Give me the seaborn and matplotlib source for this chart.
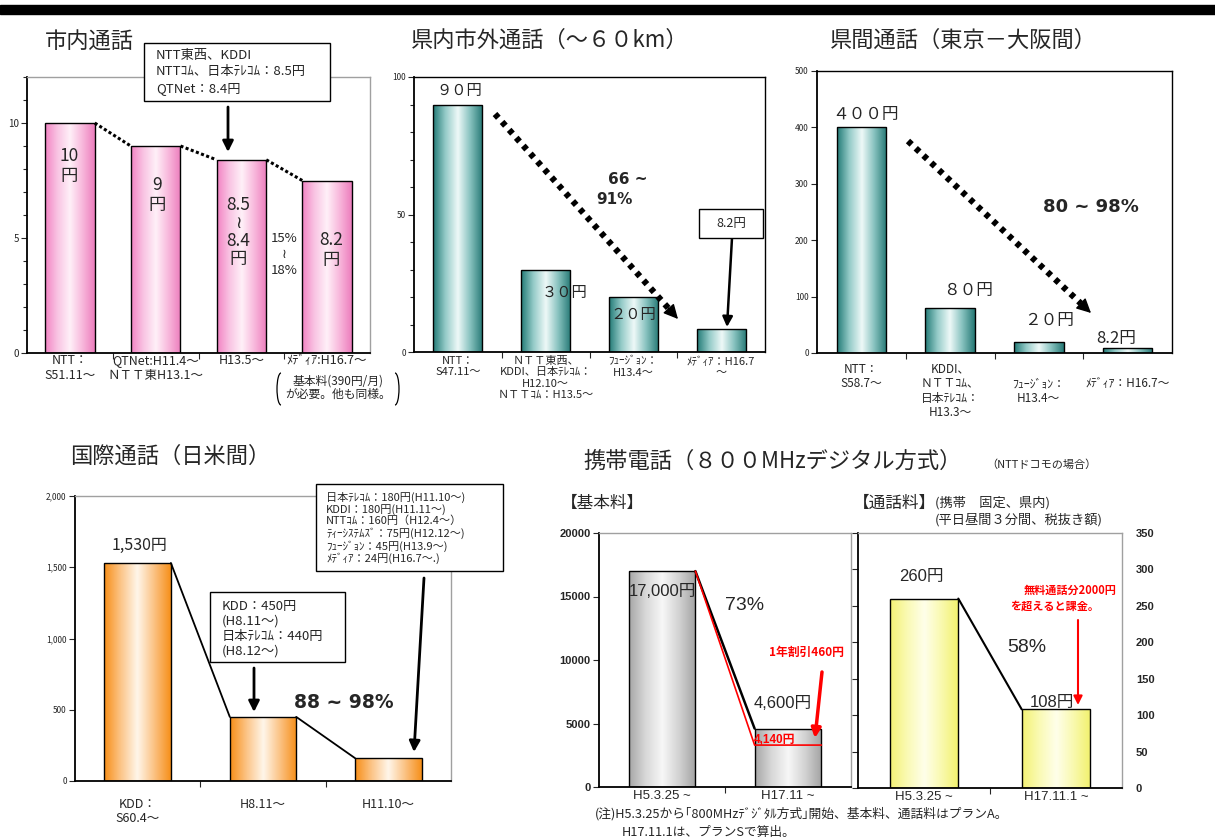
import numpy as np
import matplotlib
matplotlib.use("Agg")
import matplotlib.pyplot as plt
import seaborn as sns
from matplotlib.colors import LinearSegmentedColormap
from matplotlib.patches import Rectangle, Arc
from matplotlib.ticker import MultipleLocator, FuncFormatter

# ---------------- data ----------------
local_cats = ["NTT：\nS51.11～", "QTNet:H11.4～\nＮＴＴ東H13.1～", "H13.5～", "ﾒﾃﾞｨｱ:H16.7～"]
local_vals = [10, 9, 8.4, 7.5]

pref_cats = ["NTT：\nS47.11～", "ＮＴＴ東西、\nKDDI、日本ﾃﾚｺﾑ：\nH12.10～\nＮＴＴｺﾑ：H13.5～",
             "ﾌｭｰｼﾞｮﾝ：\nH13.4～", "ﾒﾃﾞｨｱ：H16.7\n～"]
pref_vals = [90, 30, 20, 8.2]

inter_cats = ["NTT：\nS58.7～", "KDDI、\nＮＴＴｺﾑ、\n日本ﾃﾚｺﾑ：\nH13.3～",
              "\nﾌｭｰｼﾞｮﾝ：\nH13.4～", "\nﾒﾃﾞｨｱ：H16.7～"]
inter_vals = [400, 80, 20, 8.2]

intl_cats = ["KDD：\nS60.4～", "H8.11～", "H11.10～"]
intl_vals = [1530, 450, 160]

basic_cats = ["H5.3.25 ~", "H17.11 ~"]
basic_vals = [17000, 4600]
basic_discount_level = 3300   # level at which the red "4,140円" line is drawn

call_cats = ["H5.3.25 ~", "H17.11.1 ~"]
call_vals = [260, 108]

# ---------------- setup ----------------
sns.set_style("white")
plt.rcParams["font.family"] = ["Noto Sans CJK JP", "DejaVu Sans"]

W, H = 1215, 839
fig = plt.figure(figsize=(W / 100, H / 100), dpi=100)

ARIAL = ["Liberation Sans", "Noto Sans CJK JP"]
DJB = ["DejaVu Sans", "Noto Sans CJK JP"]


def add_ax(x0, y0, x1, y1):
    return fig.add_axes([x0 / W, 1 - y1 / H, (x1 - x0) / W, (y1 - y0) / H])


def gradient(ax, bars, stops):
    cmap = LinearSegmentedColormap.from_list("g", stops)
    grad = np.linspace(0, 1, 256).reshape(1, -1)
    for p in bars:
        x0, w, h = p.get_x(), p.get_width(), p.get_height()
        im = ax.imshow(grad, cmap=cmap, extent=[x0, x0 + w, 0, h], aspect="auto",
                       zorder=1.5, interpolation="bilinear")
        im.set_clip_path(p)
        p.set_facecolor("none")
        p.set_zorder(2)


def panel(box, cats, vals, width, stops, ymax, major, minor=None, tick_fs=6,
          lab_fs=9, pad=2, tr_color="k", fmt=None):
    ax = add_ax(*box)
    sns.barplot(x=cats, y=vals, ax=ax, color="white", width=width, edgecolor="black",
                linewidth=1.0, saturation=1, order=cats)
    bars = list(ax.patches)
    gradient(ax, bars, stops)
    ax.set_xlim(-0.5, len(cats) - 0.5)
    ax.set_ylim(0, ymax)
    ax.yaxis.set_major_locator(MultipleLocator(major))
    if minor:
        ax.yaxis.set_minor_locator(MultipleLocator(minor))
    if fmt:
        ax.yaxis.set_major_formatter(FuncFormatter(fmt))
    ax.set_xticks(range(len(cats)))
    ax.set_xticklabels(cats, fontsize=lab_fs, linespacing=1.15)
    for t in ax.get_xticklabels():
        t.set_multialignment("center")
    ax.set_xticks(np.arange(0.5, len(cats) - 1, 1), minor=True)
    ax.tick_params(axis="x", which="major", length=0, pad=pad)
    ax.tick_params(axis="x", which="minor", bottom=True, length=4, direction="out", width=0.8)
    ax.tick_params(axis="y", which="both", left=True, direction="out", width=0.8,
                   labelsize=tick_fs, pad=2)
    ax.tick_params(axis="y", which="major", length=4)
    ax.tick_params(axis="y", which="minor", length=3)
    ax.set_xlabel("")
    ax.set_ylabel("")
    for s in ["left", "bottom"]:
        ax.spines[s].set_color("k")
        ax.spines[s].set_linewidth(1.3)
    for s in ["top", "right"]:
        ax.spines[s].set_color(tr_color)
        ax.spines[s].set_linewidth(1.0)
    return ax, bars


def bold_yticks(ax):
    for t in ax.yaxis.get_ticklabels(which="both"):
        t.set_fontweight("bold")
        t.set_family("Liberation Sans")


def connect(ax, bars, **kw):
    for a, b in zip(bars[:-1], bars[1:]):
        ax.plot([a.get_x() + a.get_width(), b.get_x()], [a.get_height(), b.get_height()], **kw)


pink = ["#f283c3", "#f9c4e3", "#fff0f8", "#f8b8dc", "#ec7dbd"]
teal = ["#227a76", "#95cbc8", "#eef9f8", "#86c1be", "#257874"]
orange = ["#f78e17", "#fcc588", "#fff6ea", "#fbc283", "#f68f19"]
gray = ["#a6a6a6", "#d8d8d8", "#f7f7f7", "#d2d2d2", "#a3a3a3"]
yellow = ["#f4f274", "#fafab4", "#ffffea", "#f9f9ae", "#f2f16c"]

# ---------------- panels ----------------
ax1, b1 = panel((27, 77, 370, 353), local_cats, local_vals, 0.58, pink, 12, 5, 1,
                tick_fs=7, lab_fs=9, pad=1, tr_color="#a0a0a0")
connect(ax1, b1, color="k", lw=2.2, linestyle=(0, (1, 0.8)), zorder=3)

ax2, b2 = panel((414, 77, 765, 352), pref_cats, pref_vals, 0.56, teal, 100, 50, 10,
                tick_fs=6, lab_fs=8, pad=3)

ax3, b3 = panel((817, 71, 1172, 353), inter_cats, inter_vals, 0.56, teal, 500, 100, None,
                tick_fs=6, lab_fs=8.5, pad=7)

ax4, b4 = panel((75, 496, 451, 781), intl_cats, intl_vals, 0.53, orange, 2000, 500, None,
                tick_fs=6, lab_fs=9, pad=12, tr_color="#a0a0a0",
                fmt=lambda v, p: f"{v:,.0f}")
connect(ax4, b4, color="k", lw=1.3, zorder=3)

ax5, b5 = panel((599, 533, 851, 787), basic_cats, basic_vals, 0.53, gray, 20000, 5000, None,
                tick_fs=8, lab_fs=9.5, pad=2, tr_color="#a0a0a0")
bold_yticks(ax5)
for t in ax5.get_xticklabels():
    t.set_family("Liberation Sans")
a, b = b5
ax5.plot([a.get_x() + a.get_width(), b.get_x()], [a.get_height(), b.get_height()],
         color="k", lw=1.8, zorder=3)
ax5.plot([a.get_x() + a.get_width(), b.get_x(), b.get_x() + b.get_width()],
         [a.get_height(), basic_discount_level, basic_discount_level],
         color="red", lw=1.2, zorder=3)

ax6, b6 = panel((858, 533, 1122, 788), call_cats, call_vals, 0.52, yellow, 350, 50, None,
                tick_fs=8, lab_fs=9.5, pad=2, tr_color="#a0a0a0")
ax6.tick_params(axis="y", left=True, right=False, labelleft=False, labelright=True, pad=6)
bold_yticks(ax6)
for t in ax6.get_xticklabels():
    t.set_family("Liberation Sans")
connect(ax6, b6, color="k", lw=1.5, zorder=3)

# ---------------- overlay for annotations ----------------
ov = fig.add_axes([0, 0, 1, 1], zorder=10)
ov.set_xlim(0, W)
ov.set_ylim(H, 0)
ov.axis("off")
ov.patch.set_alpha(0)


def T(x, y, s, fs=10, ha="center", va="center", **kw):
    ov.text(x, y, s, fontsize=fs, ha=ha, va=va, **kw)


def box(x0, y0, x1, y1, lw=1.0):
    ov.add_patch(Rectangle((x0, y0), x1 - x0, y1 - y0, fill=True, facecolor="white",
                           edgecolor="black", lw=lw, zorder=5))


def arrow(x0, y0, x1, y1, color="k", lw=2.0, ms=14):
    ov.annotate("", xy=(x1, y1), xytext=(x0, y0),
                arrowprops=dict(arrowstyle="-|>", color=color, lw=lw, mutation_scale=ms,
                                shrinkA=0, shrinkB=0))


def dotted_arrow(x0, y0, x1, y1):
    v = np.array([x1 - x0, y1 - y0], dtype=float)
    L = np.hypot(*v)
    u = v / L
    ex, ey = np.array([x1, y1]) - u * 14
    ov.plot([x0, ex], [y0, ey], color="k", lw=4.5, linestyle=(0, (0.8, 0.9)),
            solid_capstyle="butt", dash_capstyle="butt")
    ov.annotate("", xy=(x1, y1), xytext=(ex - u[0] * 2, ey - u[1] * 2),
                arrowprops=dict(arrowstyle="-|>", color="k", lw=1, mutation_scale=22,
                                shrinkA=0, shrinkB=0))


# header bar
ov.add_patch(Rectangle((0, 5), W, 9, facecolor="black", edgecolor="black"))

# panel 1
T(45, 42, "市内通話", 16, ha="left")
box(144, 43, 330, 101)
T(156, 72, "NTT東西、KDDI\nNTTｺﾑ、日本ﾃﾚｺﾑ：8.5円\nQTNet：8.4円", 9.5, ha="left",
  linespacing=1.35, zorder=6)
arrow(228, 107, 228, 152, lw=2.0, ms=16)
T(69, 166, "10\n円", 12.5, linespacing=1.15)
T(157, 195, "9\n円", 12.5, linespacing=1.15)
T(238, 232, "8.5\n≀\n8.4\n円", 12.5, linespacing=1.0)
T(284, 254, "15%\n≀\n18%", 9.5, linespacing=1.3)
T(331, 250, "8.2\n円", 12.5, linespacing=1.15)
T(338, 388, "基本料(390円/月)\nが必要。他も同様。", 8.5, linespacing=1.0)
ov.add_patch(Arc((281, 389), 8, 32, theta1=90, theta2=270, lw=0.9, edgecolor="k"))
ov.add_patch(Arc((395, 389), 8, 32, theta1=-90, theta2=90, lw=0.9, edgecolor="k"))

# panel 2
T(411, 40, "県内市外通話（～６０km）", 16, ha="left")
T(459, 91, "９０円", 11)
T(565, 292, "３０円", 11)
T(633, 315, "２０円", 11)
T(628, 180, "66 ~", 11, fontweight="bold", family=DJB)
T(614, 199, "91%", 11, fontweight="bold", family=DJB)
box(699, 209, 763, 238)
T(731, 224, "8.2円", 9, zorder=6)
arrow(732, 238, 727, 327, lw=1.8, ms=15)
dotted_arrow(495, 114, 678, 319)

# panel 3
T(830, 40, "県間通話（東京－大阪間）", 16, ha="left")
T(866, 115, "４００円", 12)
T(968, 291, "８０円", 12)
T(1049, 320, "２０円", 12)
T(1116, 339, "8.2円", 12)
T(1091, 207, "80 ~ 98%", 13, fontweight="bold", family=DJB)
dotted_arrow(908, 141, 1091, 313)

# panel 4
T(70, 456, "国際通話（日米間）", 16, ha="left")
T(140, 545, "1,530円", 11.5)
box(210, 592, 345, 662)
T(222, 629, "KDD：450円\n(H8.11～)\n日本ﾃﾚｺﾑ：440円\n(H8.12～)", 9.5, ha="left",
  linespacing=1.2, zorder=6)
arrow(254, 668, 254, 712, lw=2.0, ms=16)
T(344, 702, "88 ~ 98%", 13.5, fontweight="bold", family=DJB)
box(316, 484, 503, 571)
T(326, 528, "日本ﾃﾚｺﾑ：180円(H11.10～)\nKDDI：180円(H11.11～)\nNTTｺﾑ：160円（H12.4～）\n"
  "ﾃｨｰｼｽﾃﾑｽﾞ：75円(H12.12～)\nﾌｭｰｼﾞｮﾝ：45円(H13.9～)\nﾒﾃﾞｨｱ：24円(H16.7～.)",
  8, ha="left", linespacing=1.12, zorder=6)
arrow(424, 578, 414, 752, lw=2.0, ms=16)

# panel 5
T(583, 461, "携帯電話（８００MHzデジタル方式）", 16, ha="left")
T(986, 465, "（NTTドコモの場合）", 8, ha="left")
T(561, 503, "【基本料】", 12, ha="left")
T(662, 591, "17,000円", 12, family=ARIAL)
T(745, 606, "73%", 14, family=ARIAL)
T(806, 652, "1年割引460円", 8.5, color="red", fontweight="bold")
T(783, 703, "4,600円", 12, family=ARIAL)
T(775, 740, "4,140円", 8.5, color="red", fontweight="bold", family=ARIAL)
arrow(822, 672, 815, 738, color="red", lw=2.5, ms=14)

# panel 6
T(853, 503, "【通話料】", 12, ha="left")
T(935, 503, "(携帯　固定、県内)", 9.5, ha="left")
T(935, 520, "(平日昼間３分間、税抜き額)", 9.5, ha="left")
T(921, 577, "260円", 12, family=ARIAL)
T(1027, 647, "58%", 14, family=ARIAL)
T(1052, 702, "108円", 12, family=ARIAL)
T(1070, 590, "無料通話分2000円", 8, color="red", fontweight="bold")
T(1055, 606, "を超えると課金。", 8, color="red", fontweight="bold")
arrow(1078, 620, 1078, 705, color="red", lw=1.5, ms=13)

# footnote
T(595, 814, "(注)H5.3.25から｢800MHzﾃﾞｼﾞﾀﾙ方式｣開始、基本料、通話料はプランA。", 9.2, ha="left")
T(622, 832, "H17.11.1は、プランSで算出。", 9.2, ha="left")

fig.savefig("out.png", dpi=100)
